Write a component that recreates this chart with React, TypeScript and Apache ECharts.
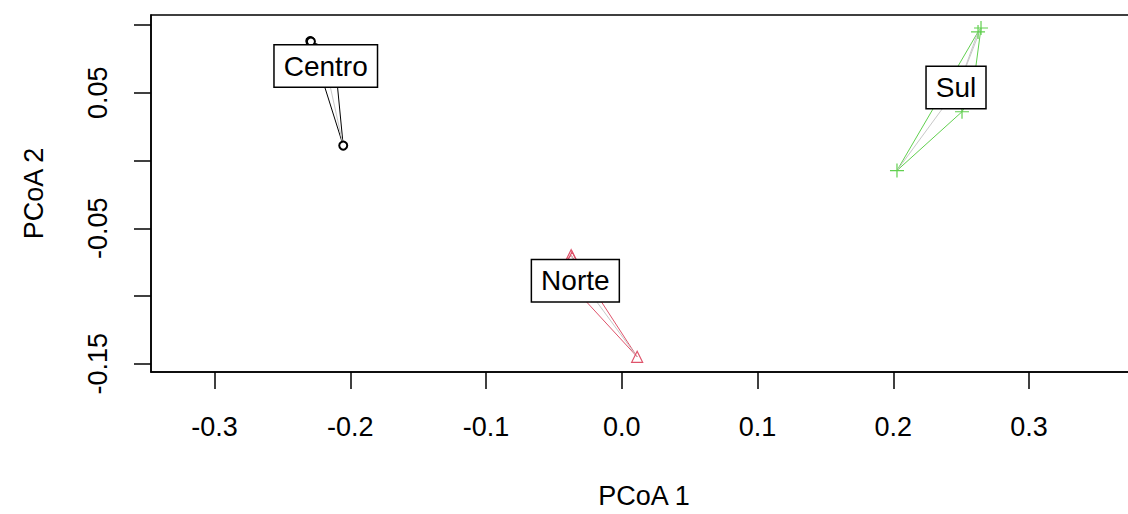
import React, { useEffect, useRef } from "react";
import * as echarts from "echarts";

const groups = ["Centro", "Norte", "Sul"];
const groupColors = ["#000000", "#DF536B", "#61D04F"];

const centroX = [-0.2295, -0.229, -0.2148, -0.2119, -0.2052];
const centroY = [0.0882, 0.0878, 0.0816, 0.0801, 0.011];
const norteX = [-0.0373, -0.0366, -0.0395, -0.0469, 0.0113];
const norteY = [-0.0699, -0.0713, -0.0765, -0.0816, -0.1449];
const sulX = [0.2646, 0.2624, 0.258, 0.2506, 0.2027];
const sulY = [0.0978, 0.0949, 0.0485, 0.036, -0.0074];

const xTicks = [-0.3, -0.2, -0.1, 0.0, 0.1, 0.2, 0.3];
const yTicks = [-0.15, -0.1, -0.05, 0.0, 0.05, 0.1];
const yLabels = [-0.15, -0.05, 0.05];

const groupXs = [centroX, norteX, sulX];
const groupYs = [centroY, norteY, sulY];

type P = [number, number];

function hull(pts: P[]): P[] {
  const p = [...pts].sort((a, b) => a[0] - b[0] || a[1] - b[1]);
  const cross = (o: P, a: P, b: P) => (a[0] - o[0]) * (b[1] - o[1]) - (a[1] - o[1]) * (b[0] - o[0]);
  const lower: P[] = [];
  for (const q of p) {
    while (lower.length >= 2 && cross(lower[lower.length - 2], lower[lower.length - 1], q) <= 0) lower.pop();
    lower.push(q);
  }
  const upper: P[] = [];
  for (let i = p.length - 1; i >= 0; i--) {
    const q = p[i];
    while (upper.length >= 2 && cross(upper[upper.length - 2], upper[upper.length - 1], q) <= 0) upper.pop();
    upper.push(q);
  }
  upper.pop();
  lower.pop();
  const h = lower.concat(upper);
  h.push(h[0]);
  return h;
}

const FONT = "'Liberation Sans', Arial, sans-serif";
const symbols = ["emptyCircle", "triangle", "path://M0,5L10,5M5,0L5,10"];
const symbolSizes = [8, 11, 14];
const labelOffsets = [
  [0, 0],
  [-6, 0],
  [-2, 0],
];

export default function App() {
  const ref = useRef<HTMLDivElement>(null);
  useEffect(() => {
    if (!ref.current) return;
    document.documentElement.style.overflow = "hidden";
    document.body.style.overflow = "hidden";
    const chart = echarts.init(ref.current, undefined, { renderer: "svg" });
    const series: any[] = [];
    groups.forEach((g, gi) => {
      const pts: P[] = groupXs[gi].map((x, i) => [x, groupYs[gi][i]]);
      const cx = groupXs[gi].reduce((a, b) => a + b, 0) / pts.length;
      const cy = groupYs[gi].reduce((a, b) => a + b, 0) / pts.length;
      const col = groupColors[gi];
      series.push({
        type: "line",
        name: g + " hull",
        data: hull(pts),
        showSymbol: false,
        symbol: "none",
        lineStyle: { color: col, width: 1 },
        silent: true,
        z: 2,
      });
      series.push({
        type: "lines",
        coordinateSystem: "cartesian2d",
        name: g + " spider",
        data: pts.map((p) => ({ coords: [[cx, cy], p] })),
        lineStyle: { color: "#C8C8C8", width: 1, opacity: 1 },
        silent: true,
        z: 3,
      });
      series.push({
        type: "scatter",
        name: g,
        data: pts,
        symbol: symbols[gi],
        symbolSize: symbolSizes[gi],
        itemStyle:
          gi === 0
            ? { color: col, borderColor: col, borderWidth: 1, opacity: 1 }
            : { color: "none", borderColor: col, borderWidth: 1.2, opacity: 1 },
        silent: true,
        z: 4,
      });
      series.push({
        type: "scatter",
        name: g + " label",
        data: [[cx, cy]],
        symbol: "rect",
        symbolSize: 1,
        itemStyle: { color: "rgba(0,0,0,0)", opacity: 1 },
        label: {
          show: true,
          position: "inside",
          offset: labelOffsets[gi],
          formatter: g,
          fontFamily: FONT,
          fontSize: 28,
          lineHeight: 29,
          color: "#000",
          opacity: 1,
          backgroundColor: "#fff",
          borderColor: "#000",
          borderWidth: 1.5,
          padding: [6, 9, 6, 9],
        },
        silent: true,
        z: 10,
      });
    });

    chart.setOption({
      animation: false,
      grid: {
        left: 151,
        top: 15,
        right: 3,
        bottom: 140,
        show: true,
        borderColor: "#000",
        borderWidth: 1.5,
        backgroundColor: "transparent",
        containLabel: false,
      },
      xAxis: {
        type: "value",
        min: -0.3468,
        max: 0.3795,
        name: "PCoA 1",
        nameLocation: "middle",
        nameGap: 110,
        nameTextStyle: { fontFamily: FONT, fontSize: 27, color: "#000" },
        axisLine: { show: true, onZero: false, lineStyle: { color: "#000", width: 1.5 } },
        axisTick: { show: true, inside: false, length: 17, customValues: xTicks, lineStyle: { color: "#000", width: 1.5 } },
        axisLabel: {
          show: true,
          customValues: xTicks,
          margin: 41,
          fontFamily: FONT,
          fontSize: 27,
          color: "#000",
          formatter: (v: number) => v.toFixed(1),
        },
        splitLine: { show: false },
      },
      yAxis: {
        type: "value",
        min: -0.1561,
        max: 0.1074,
        name: "PCoA 2",
        nameLocation: "middle",
        nameGap: 104,
        nameRotate: 90,
        nameTextStyle: { fontFamily: FONT, fontSize: 27, color: "#000" },
        axisLine: { show: true, onZero: false, lineStyle: { color: "#000", width: 1.5 } },
        axisTick: { show: true, inside: false, length: 17, customValues: yTicks, lineStyle: { color: "#000", width: 1.5 } },
        axisLabel: {
          show: true,
          customValues: yLabels,
          rotate: 90,
          margin: 40,
          fontFamily: FONT,
          fontSize: 27,
          color: "#000",
          formatter: (v: number) => v.toFixed(2),
        },
        splitLine: { show: false },
      },
      series,
    });
    return () => chart.dispose();
  }, []);
  return (
    <div
      ref={ref}
      style={{ position: "fixed", left: 0, top: 0, width: 1140, height: 514, background: "#fff" }}
    />
  );
}
